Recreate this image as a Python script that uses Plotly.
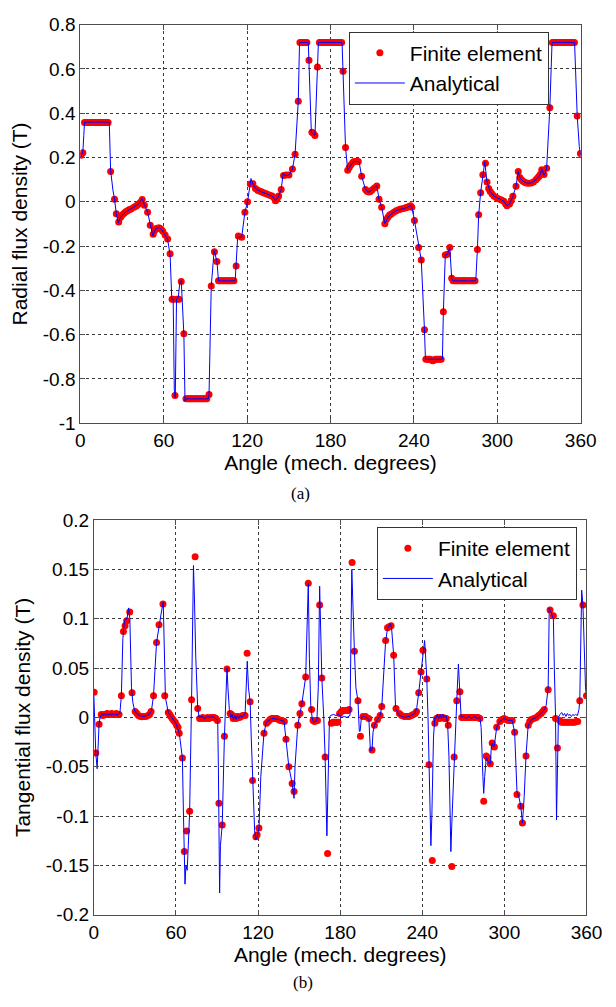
import plotly.graph_objects as go

# ---------------- (a) Radial flux density ----------------
fe_a_angle = [0.5, 1.8, 3.0, 4.0, 5.0, 6.0, 7.0, 8.0, 9.0, 10.0, 11.0, 12.0, 13.0, 14.0, 15.0, 16.0, 17.0, 18.0, 19.0, 20.0,
              21.8, 24.6, 25.9, 27.6, 29.0, 30.3, 31.5, 32.7, 34.0, 35.0, 36.5, 38.5, 40.0, 40.8, 42.0, 43.1, 44.5, 46.1, 48.4,
              50.3, 52.4, 53.5, 54.7, 56.0, 57.0, 58.2, 59.3, 61.0, 62.8, 64.6, 66.0, 67.0, 68.1, 69.5, 70.9, 72.6, 74.5,
              76.0, 77.0, 78.0, 79.0, 80.0, 81.0, 82.0, 83.0, 84.0, 85.0, 86.0, 87.0, 88.0, 89.0, 90.0, 91.0, 92.6, 94.2,
              96.5, 98.3, 99.4, 100.5, 101.5, 102.5, 103.5, 104.5, 105.5, 106.5, 107.5, 108.5, 109.5, 110.5, 112.1, 113.7,
              116.1, 118.4, 120.3, 122.3, 124.2, 126.0, 127.5, 128.8, 130.3, 131.8, 133.2, 134.6, 136.3, 138.0, 139.3,
              140.4, 141.5, 142.7, 144.5, 146.2, 148.0, 150.1, 152.6, 154.5, 156.8, 158.0, 159.0, 160.0, 161.0, 162.0,
              163.0, 164.5, 166.6, 167.6, 168.8, 170.6, 172.0, 173.0, 174.0, 175.0, 176.0, 177.0, 178.0, 179.0, 180.0,
              181.0, 182.0, 183.0, 184.0, 185.0, 186.0, 187.0, 188.0, 189.0, 190.8, 192.4, 193.5, 194.7, 196.0, 197.0,
              198.5, 200.0, 202.4, 205.2, 206.3, 207.5, 208.7, 209.8, 211.5, 213.3, 214.9, 216.8, 219.1, 220.2, 221.4,
              222.5, 223.7, 225.5, 227.2, 229.0, 230.6, 232.5, 234.0, 235.3, 236.5, 237.6, 238.5, 240.4, 243.4, 245.3,
              247.6, 248.6, 249.6, 250.6, 251.6, 252.6, 253.6, 254.6, 255.6, 256.6, 257.6, 258.6, 259.6, 261.2, 262.6,
              264.2, 265.8, 267.2, 268.2, 269.2, 270.2, 271.2, 272.2, 273.2, 274.2, 275.2, 276.2, 277.2, 278.2, 279.2,
              280.2, 281.2, 282.2, 283.2, 284.0, 285.7, 286.6, 288.0, 289.6, 291.5, 292.6, 293.8, 294.9, 296.3, 297.7,
              299.5, 301.2, 303.0, 304.7, 306.0, 307.0, 308.8, 310.0, 311.2, 313.5, 315.1, 316.2, 317.4, 318.5, 319.7,
              320.9, 322.5, 324.4, 326.0, 327.8, 329.0, 330.1, 331.0, 332.0, 333.6, 335.5, 337.8, 339.6, 340.6, 341.6,
              342.6, 343.6, 344.6, 345.6, 346.6, 347.6, 348.6, 349.6, 350.6, 351.6, 352.6, 353.6, 354.6, 355.5, 357.5,
              359.8]
fe_a_value = [0.21, 0.222, 0.358, 0.358, 0.358, 0.358, 0.358, 0.358, 0.358, 0.358, 0.358, 0.358, 0.358, 0.358, 0.358, 0.358, 0.358, 0.358, 0.358, 0.358,
              0.137, 0.012, -0.054, -0.091, -0.07, -0.059, -0.052, -0.045, -0.040, -0.036, -0.032, -0.025, -0.020, -0.015, -0.010, -0.003, 0.010, -0.015, -0.047,
              -0.106, -0.147, -0.130, -0.121, -0.118, -0.118, -0.124, -0.133, -0.150, -0.168, -0.235, -0.44, -0.44, -0.875, -0.44, -0.44, -0.36, -0.596,
              -0.89, -0.89, -0.89, -0.89, -0.89, -0.89, -0.89, -0.89, -0.89, -0.89, -0.89, -0.89, -0.89, -0.89, -0.89, -0.89, -0.87, -0.38,
              -0.226, -0.27, -0.357, -0.357, -0.357, -0.357, -0.357, -0.357, -0.357, -0.357, -0.357, -0.357, -0.357, -0.357, -0.29, -0.155,
              -0.16, -0.047, 0.0, 0.08, 0.081, 0.06, 0.052, 0.049, 0.045, 0.041, 0.037, 0.034, 0.030, 0.026, 0.018,
              0.005, 0.012, 0.026, 0.056, 0.119, 0.121, 0.121, 0.148, 0.215, 0.454, 0.72, 0.72, 0.72, 0.72, 0.72,
              0.72, 0.639, 0.314, 0.31, 0.30, 0.609, 0.72, 0.72, 0.72, 0.72, 0.72, 0.72, 0.72, 0.72, 0.72,
              0.72, 0.72, 0.72, 0.72, 0.72, 0.72, 0.72, 0.72, 0.59, 0.245, 0.142, 0.155, 0.167, 0.178, 0.182,
              0.182, 0.182, 0.115, 0.056, 0.048, 0.044, 0.046, 0.053, 0.062, 0.071, 0.012, -0.025, -0.099, -0.08, -0.069,
              -0.06, -0.055, -0.047, -0.04, -0.036, -0.033, -0.03, -0.027, -0.025, -0.021, -0.018, -0.025, -0.084, -0.206, -0.263,
              -0.578, -0.711, -0.711, -0.711, -0.711, -0.715, -0.718, -0.714, -0.711, -0.711, -0.711, -0.711, -0.711, -0.497, -0.24,
              -0.237, -0.206, -0.345, -0.357, -0.357, -0.357, -0.357, -0.357, -0.357, -0.357, -0.357, -0.357, -0.357, -0.357, -0.357,
              -0.357, -0.357, -0.357, -0.357, -0.357, -0.215, -0.059, 0.041, 0.122, 0.174, 0.089, 0.06, 0.047, 0.035, 0.025,
              0.018, 0.013, 0.008, 0.003, -0.01, -0.018, -0.01, 0.005, 0.025, 0.07, 0.137, 0.11, 0.1, 0.093, 0.088,
              0.085, 0.084, 0.085, 0.09, 0.1, 0.108, 0.115, 0.125, 0.145, 0.123, 0.152, 0.425, 0.72, 0.72, 0.72,
              0.72, 0.72, 0.72, 0.72, 0.72, 0.72, 0.72, 0.72, 0.72, 0.72, 0.72, 0.72, 0.72, 0.72, 0.388,
              0.218]

an_a_angle = [0.0, 0.8, 1.8, 2.5, 3.0, 20.8, 21.8, 23.5, 24.6, 25.9, 27.3, 28.5, 30.3, 33.0, 36.0, 39.0, 42.0, 44.5, 46.1,
              48.4, 50.3, 52.2, 53.5, 54.7, 56.5, 58.5, 60.0, 62.8, 64.6, 65.8, 66.8, 67.6, 68.3, 69.2, 70.5, 71.5, 72.6,
              74.5, 75.3, 76.0, 92.0, 92.6, 94.2, 96.3, 98.3, 99.4, 111.4, 112.1, 113.2, 116.1, 118.4, 120.3, 122.8,
              124.2, 126.0, 128.8, 131.8, 134.6, 138.0, 140.4, 142.7, 144.5, 146.0, 147.3, 150.1, 152.6, 154.5, 156.8,
              157.7, 164.0, 164.5, 166.2, 168.8, 170.6, 171.3, 188.3, 189.0, 190.8, 192.4, 194.7, 197.0, 200.5, 202.4,
              205.2, 207.5, 209.8, 213.3, 214.9, 216.8, 219.1, 221.4, 223.7, 227.2, 230.6, 235.3, 237.6, 238.5, 240.4,
              243.4, 245.3, 247.6, 248.3, 260.5, 261.2, 262.6, 264.2, 265.8, 267.2, 268.0, 284.5, 285.7, 286.6, 288.0,
              289.6, 291.0, 292.6, 294.9, 297.7, 301.2, 304.7, 307.0, 308.8, 311.2, 313.5, 315.1, 316.2, 318.5, 320.9,
              324.4, 327.8, 330.1, 331.0, 332.0, 333.6, 334.5, 335.5, 337.8, 339.4, 355.6, 357.5, 359.0, 360.0]
an_a_value = [0.20, 0.21, 0.225, 0.30, 0.36, 0.36, 0.14, 0.05, 0.012, -0.055, -0.095, -0.075, -0.06, -0.045, -0.034, -0.024, -0.01, 0.015, -0.015,
              -0.047, -0.106, -0.155, -0.13, -0.12, -0.117, -0.125, -0.14, -0.17, -0.24, -0.44, -0.44, -0.85, -0.885, -0.44, -0.43, -0.37, -0.355,
              -0.6, -0.9, -0.89, -0.89, -0.87, -0.38, -0.22, -0.27, -0.357, -0.357, -0.29, -0.16, -0.16, -0.047, 0.0, 0.105,
              0.08, 0.06, 0.049, 0.041, 0.034, 0.026, 0.005, 0.026, 0.056, 0.13, 0.118, 0.121, 0.148, 0.215, 0.454,
              0.72, 0.72, 0.639, 0.314, 0.30, 0.609, 0.72, 0.72, 0.59, 0.245, 0.142, 0.167, 0.182, 0.182, 0.115,
              0.056, 0.044, 0.053, 0.075, 0.012, -0.025, -0.099, -0.069, -0.055, -0.04, -0.033, -0.025, -0.016, -0.025, -0.084,
              -0.206, -0.263, -0.578, -0.711, -0.711, -0.497, -0.24, -0.237, -0.206, -0.345, -0.357, -0.357, -0.215, -0.059, 0.041,
              0.122, 0.18, 0.089, 0.047, 0.025, 0.013, 0.003, -0.018, -0.01, 0.025, 0.07, 0.137, 0.11, 0.093, 0.085,
              0.085, 0.1, 0.115, 0.125, 0.15, 0.12, 0.13, 0.152, 0.425, 0.72, 0.72, 0.388, 0.25, 0.21]

# ---------------- (b) Tangential flux density ----------------
fe_b_angle = [0.2, 1.4, 3.8, 5.4, 6.5, 7.5, 8.6, 9.7, 10.8, 12.0, 13.0, 14.2, 15.3, 16.4, 17.5, 18.4, 20.1, 21.6, 22.8,
              24.0, 26.2, 27.9, 30.2, 31.5, 32.6, 34.0, 35.2, 36.5, 38.0, 39.5, 40.7, 41.8, 43.6, 45.8, 47.6, 50.5, 51.8,
              54.4, 55.5, 56.3, 57.3, 58.3, 59.5, 60.5, 61.5, 62.4, 64.7, 66.1, 67.8, 70.0, 71.4, 74.0, 75.9, 77.3,
              78.5, 79.5, 80.7, 82.0, 83.0, 84.2, 85.5, 86.8, 88.0, 89.2, 90.3, 91.4, 93.8, 95.4, 97.3, 99.6, 100.6,
              101.8, 103.0, 104.0, 105.2, 106.4, 107.6, 108.8, 110.5, 112.0, 114.2, 116.0, 118.4, 119.3, 120.6, 124.3,
              126.2, 127.5, 128.8, 130.0, 131.3, 132.5, 133.8, 135.0, 136.3, 137.6, 139.2, 140.4, 142.5, 144.9, 146.3,
              149.0, 150.6, 152.0, 154.8, 156.7, 159.1, 160.2, 161.3, 162.5, 163.4, 165.0, 166.6, 169.0, 170.8, 173.6,
              174.8, 176.0, 177.2, 178.4, 179.6, 180.9, 182.0, 183.2, 184.3, 185.4, 186.5, 188.7, 190.4, 193.0, 194.8,
              196.7, 198.6, 200.9, 203.3, 205.0, 207.3, 209.2, 210.4, 213.2, 214.6, 215.8, 217.2, 219.1, 220.8, 223.3,
              225.0, 226.8, 228.5, 230.4, 232.0, 233.4, 234.8, 235.8, 237.4, 239.1, 240.5, 243.3, 244.9, 247.3, 249.2,
              250.4, 251.6, 252.8, 254.0, 255.2, 256.4, 257.5, 259.0, 261.6, 263.3, 265.2, 267.5, 268.8, 270.0, 271.2,
              272.4, 273.6, 274.8, 276.0, 277.2, 278.4, 279.6, 280.8, 282.1, 284.9, 286.8, 288.0, 289.7, 291.1, 292.7,
              294.4, 296.7, 298.2, 299.8, 301.3, 302.8, 304.2, 305.7, 307.5, 309.2, 312.0, 313.2, 315.8, 317.4, 318.5,
              319.7, 321.5, 323.3, 325.0, 326.8, 328.0, 329.2, 332.0, 333.4, 335.8, 337.4, 338.8, 340.5, 341.7, 343.0,
              344.2, 345.4, 346.6, 347.8, 349.0, 350.2, 351.4, 352.6, 353.6, 355.1, 357.4, 360.0]
fe_b_value = [0.0256, -0.036, -0.007, 0.003, 0.002, 0.003, 0.003, 0.004, 0.003, 0.003, 0.004, 0.003, 0.003, 0.004, 0.003, 0.003, 0.022, 0.087, 0.093,
              0.098, 0.107, 0.025, 0.006, 0.004, 0.002, 0.001, 0.0007, 0.001, 0.001, 0.002, 0.003, 0.006, 0.022, 0.076, 0.094, 0.115, 0.022,
              0.005, 0.003, 0.001, -0.001, -0.003, -0.005, -0.008, -0.010, -0.016, -0.041, -0.136, -0.115, -0.095, 0.018, 0.163, 0.009, -0.001,
              -0.001, 0.0, -0.001, -0.001, 0.0, -0.001, 0.0, 0.0, 0.0, -0.001, -0.003, -0.087, -0.109, -0.019, 0.049, 0.004, 0.003,
              -0.001, 0.001, -0.001, 0.001, 0.0, 0.001, 0.002, 0.002, 0.065, 0.016, -0.064, -0.121, -0.119, -0.112, -0.016,
              -0.006, -0.004, -0.002, -0.001, -0.001, -0.001, -0.001, -0.002, -0.003, -0.003, -0.004, -0.022, -0.050, -0.067, -0.075,
              -0.008, 0.004, 0.014, 0.041, 0.136, 0.008, -0.003, -0.004, -0.003, -0.003, 0.114, 0.040, -0.040, -0.138, -0.006,
              -0.005, -0.005, -0.005, -0.005, 0.004, 0.006, 0.007, 0.007, 0.007, 0.007, 0.008, 0.157, 0.067, 0.017, -0.019,
              0.001, 0.001, -0.001, -0.033, -0.008, -0.002, 0.002, 0.011, 0.078, 0.091, 0.092, 0.093, 0.063, 0.009, 0.004,
              0.002, 0.001, 0.001, 0.001, 0.002, 0.003, 0.004, 0.006, 0.025, 0.046, 0.068, 0.039, -0.048, -0.145, -0.006,
              -0.001, 0.0, -0.001, 0.0, 0.0, -0.001, -0.001, -0.008, -0.151, -0.040, 0.017, 0.026, 0.0, 0.0, 0.0,
              0.0, 0.0, 0.0, 0.0, 0.0, 0.0, 0.0, 0.0, -0.001, -0.085, -0.039, -0.041, -0.047, -0.026, -0.030,
              -0.010, -0.004, -0.002, -0.001, -0.002, -0.003, -0.003, -0.003, -0.015, -0.078, -0.090, -0.107, -0.039, -0.008, -0.004,
              -0.002, -0.001, 0.0, 0.002, 0.004, 0.006, 0.008, 0.028, 0.109, 0.103, -0.001, -0.031, -0.003, -0.005, -0.005,
              -0.005, -0.005, -0.005, -0.005, -0.005, -0.005, -0.005, -0.004, -0.004, 0.017, 0.114, 0.022]

an_b_angle = [0.0, 0.6, 1.4, 2.4, 3.2, 3.8, 4.5, 5.0, 6.0, 7.0, 8.0, 9.0, 10.0, 11.0, 12.0, 13.0, 14.0, 15.0, 16.0, 17.0,
              18.0, 19.0, 20.1, 21.2, 22.3, 23.2, 24.2, 25.4, 26.3, 27.5, 28.5, 30.0, 33.0, 36.0, 39.0, 42.0, 43.6,
              45.8, 47.6, 49.5, 50.7, 51.5, 52.3, 54.4, 57.0, 60.0, 62.4, 64.7, 65.5, 66.6, 67.3, 68.2, 69.0, 70.0,
              71.4, 72.8, 73.5, 74.5, 75.9, 77.0, 79.0, 81.0, 83.0, 85.0, 87.0, 89.0, 90.5, 91.0, 91.9, 92.5, 93.8,
              95.4, 96.6, 97.3, 98.0, 99.0, 100.0, 101.0, 102.0, 103.0, 104.0, 105.0, 106.0, 107.0, 108.0, 109.0,
              110.5, 111.4, 112.1, 113.0, 114.2, 115.0, 116.0, 117.5, 118.4, 119.5, 120.7, 122.0, 124.3, 126.0,
              130.0, 135.0, 139.0, 140.4, 142.5, 144.9, 146.3, 147.0, 149.0, 150.6, 152.0, 154.8, 156.0, 156.7,
              157.5, 158.5, 159.5, 160.5, 163.0, 164.0, 165.0, 165.8, 166.6, 168.0, 169.0, 170.3, 171.3, 172.2,
              173.0, 175.0, 177.0, 179.0, 181.0, 183.0, 185.0, 187.2, 188.5, 189.5, 190.4, 191.5, 193.0, 194.0,
              194.6, 195.5, 197.0, 199.0, 201.0, 202.1, 203.3, 204.0, 205.0, 207.3, 209.2, 210.4, 212.0, 213.2,
              214.6, 216.8, 217.6, 219.1, 220.5, 223.3, 226.8, 230.4, 234.6, 236.0, 237.4, 239.1, 240.5, 241.7,
              242.5, 243.3, 244.2, 244.9, 246.3, 247.0, 248.2, 249.2, 250.0, 251.0, 252.0, 253.0, 254.0, 255.0,
              256.0, 257.4, 258.5, 259.5, 260.9, 261.8, 263.3, 264.5, 265.2, 266.4, 267.0, 267.5, 268.4, 270.0,
              272.0, 274.0, 276.0, 278.0, 280.0, 282.1, 283.0, 284.3, 284.9, 285.6, 286.8, 288.0, 289.7, 290.5,
              291.1, 292.0, 292.7, 294.4, 296.7, 299.8, 302.8, 305.7, 307.5, 308.5, 309.2, 310.5, 312.0, 313.2,
              314.5, 315.8, 317.4, 320.0, 323.3, 326.8, 329.2, 330.5, 332.0, 332.8, 333.4, 334.5, 335.8, 336.5,
              337.4, 338.1, 338.8, 339.5, 340.5, 342.0, 343.0, 344.0, 345.0, 346.0, 347.0, 348.0, 349.0, 350.0,
              351.0, 352.0, 353.4, 354.5, 355.1, 356.0, 356.5, 357.4, 358.5, 359.3, 360.0]
an_b_value = [0.022, 0.0, -0.036, -0.052, -0.02, -0.007, 0.0, 0.002, 0.004, 0.002, 0.004, 0.002, 0.004, 0.002, 0.004, 0.002, 0.004, 0.002, 0.004, 0.002,
              0.004, 0.004, 0.022, 0.08, 0.097, 0.1, 0.1, 0.111, 0.1, 0.03, 0.015, 0.006, 0.002, 0.001, 0.002, 0.006, 0.022,
              0.076, 0.094, 0.108, 0.117, 0.06, 0.02, 0.005, 0.0, -0.006, -0.016, -0.041, -0.1, -0.169, -0.15, -0.155, -0.13, -0.095,
              0.018, 0.154, 0.12, 0.06, 0.009, 0.0, 0.001, -0.001, 0.001, 0.0, 0.001, -0.001, -0.003, -0.05, -0.178, -0.13, -0.109,
              -0.02, 0.04, 0.05, 0.03, 0.008, 0.0, 0.003, -0.002, 0.002, -0.002, 0.002, -0.001, 0.002, 0.0, 0.002,
              0.003, 0.045, 0.057, 0.03, 0.016, -0.02, -0.064, -0.115, -0.124, -0.12, -0.111, -0.06, -0.016, -0.005,
              -0.001, -0.002, -0.004, -0.022, -0.05, -0.067, -0.082, -0.05, -0.008, 0.004, 0.014, 0.041, 0.1, 0.136,
              0.06, 0.012, 0.0, -0.005, -0.003, 0.03, 0.133, 0.08, 0.04, 0.0, -0.04, -0.12, -0.06, 0.0,
              0.002, 0.003, 0.002, 0.003, 0.0, 0.001, 0.0, 0.002, 0.15, 0.09, 0.067, 0.03, 0.017, -0.014,
              -0.014, 0.0, 0.001, 0.0, -0.002, -0.034, -0.033, -0.015, -0.008, -0.002, 0.002, 0.011, 0.045, 0.077,
              0.09, 0.095, 0.09, 0.063, 0.009, 0.002, 0.0, 0.001, 0.004, 0.01, 0.025, 0.046, 0.068, 0.078,
              0.06, 0.039, 0.0, -0.048, -0.13, -0.1, -0.02, 0.0, -0.001, 0.003, -0.001, 0.003, -0.001, 0.003,
              0.0, 0.002, -0.005, -0.04, -0.136, -0.1, -0.04, 0.0, 0.017, 0.054, 0.035, 0.026, 0.0, 0.001,
              -0.001, 0.001, -0.001, 0.001, -0.001, 0.0, -0.01, -0.06, -0.077, -0.06, -0.04, -0.045, -0.047, -0.03,
              -0.026, -0.03, -0.028, -0.01, -0.004, -0.001, -0.003, -0.003, -0.015, -0.05, -0.075, -0.08, -0.09, -0.107,
              -0.08, -0.039, -0.008, -0.002, 0.0, 0.004, 0.008, 0.012, 0.03, 0.111, 0.109, 0.105, 0.1, 0.05,
              0.0, -0.104, -0.05, 0.0, 0.003, 0.005, 0.002, 0.004, 0.001, 0.004, 0.002, 0.003, 0.001, 0.003,
              0.002, 0.003, 0.002, 0.008, 0.017, 0.09, 0.129, 0.114, 0.06, 0.03, 0.022]

# ---------------- tick labels / texts ----------------
x_ticks = [0, 60, 120, 180, 240, 300, 360]
x_tick_text = ["0", "60", "120", "180", "240", "300", "360"]
ya_ticks = [-1, -0.8, -0.6, -0.4, -0.2, 0, 0.2, 0.4, 0.6, 0.8]
ya_tick_text = ["-1", "-0.8", "-0.6", "-0.4", "-0.2", "0", "0.2", "0.4", "0.6", "0.8"]
yb_ticks = [-0.2, -0.15, -0.1, -0.05, 0, 0.05, 0.1, 0.15, 0.2]
yb_tick_text = ["-0.2", "-0.15", "-0.1", "-0.05", "0", "0.05", "0.1", "0.15", "0.2"]

SANS = "Arial, Liberation Sans, Helvetica, sans-serif"
SERIF = "Times New Roman, Liberation Serif, serif"
RED = "#ff0000"
BLUE = "#0000ff"
FRAME = "#4d4d4d"

fig = go.Figure()

fig.add_trace(go.Scatter(x=fe_a_angle, y=fe_a_value, mode="markers", name="Finite element",
                         marker=dict(color=RED, size=7), xaxis="x", yaxis="y", legend="legend"))
fig.add_trace(go.Scatter(x=an_a_angle, y=an_a_value, mode="lines", name="Analytical",
                         line=dict(color=BLUE, width=1), xaxis="x", yaxis="y", legend="legend"))
fig.add_trace(go.Scatter(x=fe_b_angle, y=fe_b_value, mode="markers", name="Finite element",
                         marker=dict(color=RED, size=7), xaxis="x2", yaxis="y2", legend="legend2"))
fig.add_trace(go.Scatter(x=an_b_angle, y=an_b_value, mode="lines", name="Analytical",
                         line=dict(color=BLUE, width=1), xaxis="x2", yaxis="y2", legend="legend2"))

axis_common = dict(showline=True, linecolor=FRAME, linewidth=1, mirror="ticks", ticks="inside", ticklen=5,
                   tickcolor=FRAME, showgrid=True, gridcolor="#3a3a3a", griddash="dot", gridwidth=1,
                   zeroline=False, tickfont=dict(family=SANS, size=19, color="black"))
title_font = dict(family=SANS, size=21, color="black")
legend_common = dict(xanchor="left", yanchor="top", bgcolor="white", bordercolor="#333333", borderwidth=1,
                     itemwidth=50, font=dict(family=SANS, size=21, color="black"))

W, H = 616, 1007
fig.update_layout(
    width=W, height=H, margin=dict(l=0, r=0, t=0, b=0),
    paper_bgcolor="white", plot_bgcolor="white",
    xaxis=dict(domain=[78 / W, 596 / W], anchor="y", range=[0, 360], tickvals=x_ticks, ticktext=x_tick_text,
               title=dict(text="Angle (mech. degrees)", font=title_font, standoff=3), **axis_common),
    yaxis=dict(domain=[1 - 422 / H, 1 - 15 / H], anchor="x", range=[-1, 0.8], tickvals=ya_ticks, ticktext=ya_tick_text,
               title=dict(text="Radial flux density (T)", font=title_font, standoff=9), **axis_common),
    xaxis2=dict(domain=[92 / W, 602 / W], anchor="y2", range=[0, 360], tickvals=x_ticks, ticktext=x_tick_text,
                title=dict(text="Angle (mech. degrees)", font=title_font, standoff=3), **axis_common),
    yaxis2=dict(domain=[1 - 924 / H, 1 - 521 / H], anchor="x2", range=[-0.2, 0.2], tickvals=yb_ticks, ticktext=yb_tick_text,
                title=dict(text="Tangential flux density (T)", font=title_font, standoff=9), **axis_common),
    legend=dict(x=356 / W, y=1 - 22 / H, **legend_common),
    legend2=dict(x=385 / W, y=1 - 528 / H, **legend_common),
    annotations=[
        dict(text="(a)", x=306 / W, y=1 - 494 / H, xref="paper", yref="paper", showarrow=False,
             font=dict(family=SERIF, size=17, color="black"), xanchor="center", yanchor="middle"),
        dict(text="(b)", x=308 / W, y=1 - 993 / H, xref="paper", yref="paper", showarrow=False,
             font=dict(family=SERIF, size=17, color="black"), xanchor="center", yanchor="middle"),
    ],
    showlegend=True,
)

fig.write_html("out.html")
